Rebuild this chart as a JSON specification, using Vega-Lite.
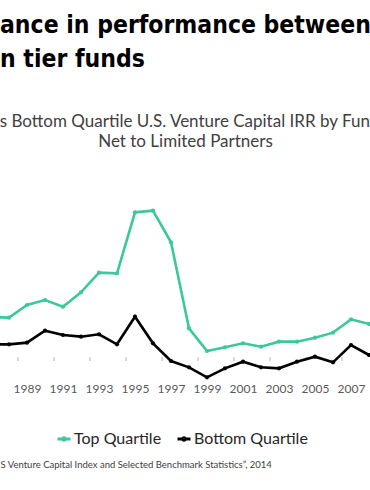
{
  "$schema": "https://vega.github.io/schema/vega-lite/v6.json",
  "autosize": {"type": "none"},
  "width": 370,
  "height": 175,
  "padding": {"top": 207, "left": 0, "right": 0, "bottom": 108},
  "background": "#ffffff",
  "config": {"view": {"stroke": null}},
  "title": {
    "text": ["ance in performance between", "n tier funds"],
    "anchor": "start",
    "frame": "group",
    "font": "'DejaVu Sans Condensed', 'Liberation Sans Narrow', Roboto, sans-serif",
    "fontSize": 24.5,
    "fontWeight": "bold",
    "color": "#000000",
    "lineHeight": 34,
    "offset": 40
  },
  "datasets": {
    "irr": [
      {"year": 1987, "series": "Top Quartile", "irr": 24.0},
      {"year": 1988, "series": "Top Quartile", "irr": 23.6},
      {"year": 1989, "series": "Top Quartile", "irr": 31.2},
      {"year": 1990, "series": "Top Quartile", "irr": 34.2},
      {"year": 1991, "series": "Top Quartile", "irr": 30.2},
      {"year": 1992, "series": "Top Quartile", "irr": 38.8},
      {"year": 1993, "series": "Top Quartile", "irr": 50.6},
      {"year": 1994, "series": "Top Quartile", "irr": 50.2},
      {"year": 1995, "series": "Top Quartile", "irr": 86.8},
      {"year": 1996, "series": "Top Quartile", "irr": 87.8},
      {"year": 1997, "series": "Top Quartile", "irr": 68.8},
      {"year": 1998, "series": "Top Quartile", "irr": 17.2},
      {"year": 1999, "series": "Top Quartile", "irr": 3.6},
      {"year": 2000, "series": "Top Quartile", "irr": 5.8},
      {"year": 2001, "series": "Top Quartile", "irr": 8.2},
      {"year": 2002, "series": "Top Quartile", "irr": 6.2},
      {"year": 2003, "series": "Top Quartile", "irr": 9.2},
      {"year": 2004, "series": "Top Quartile", "irr": 9.2},
      {"year": 2005, "series": "Top Quartile", "irr": 11.6},
      {"year": 2006, "series": "Top Quartile", "irr": 14.6},
      {"year": 2007, "series": "Top Quartile", "irr": 22.6},
      {"year": 2008, "series": "Top Quartile", "irr": 19.8},
      {"year": 1987, "series": "Bottom Quartile", "irr": 7.5},
      {"year": 1988, "series": "Bottom Quartile", "irr": 7.6},
      {"year": 1989, "series": "Bottom Quartile", "irr": 8.6},
      {"year": 1990, "series": "Bottom Quartile", "irr": 15.8},
      {"year": 1991, "series": "Bottom Quartile", "irr": 13.2},
      {"year": 1992, "series": "Bottom Quartile", "irr": 12.2},
      {"year": 1993, "series": "Bottom Quartile", "irr": 13.6},
      {"year": 1994, "series": "Bottom Quartile", "irr": 7.6},
      {"year": 1995, "series": "Bottom Quartile", "irr": 24.2},
      {"year": 1996, "series": "Bottom Quartile", "irr": 8.2},
      {"year": 1997, "series": "Bottom Quartile", "irr": -2.4},
      {"year": 1998, "series": "Bottom Quartile", "irr": -6.2},
      {"year": 1999, "series": "Bottom Quartile", "irr": -12.2},
      {"year": 2000, "series": "Bottom Quartile", "irr": -6.8},
      {"year": 2001, "series": "Bottom Quartile", "irr": -2.8},
      {"year": 2002, "series": "Bottom Quartile", "irr": -6.2},
      {"year": 2003, "series": "Bottom Quartile", "irr": -6.8},
      {"year": 2004, "series": "Bottom Quartile", "irr": -2.8},
      {"year": 2005, "series": "Bottom Quartile", "irr": 0.2},
      {"year": 2006, "series": "Bottom Quartile", "irr": -3.2},
      {"year": 2007, "series": "Bottom Quartile", "irr": 7.2},
      {"year": 2008, "series": "Bottom Quartile", "irr": 1.2}
    ],
    "ticks": [
      {"tick": 1988.5}, {"tick": 1990.5}, {"tick": 1992.5}, {"tick": 1994.5},
      {"tick": 1996.5}, {"tick": 1998.5}, {"tick": 2000.5}, {"tick": 2002.5},
      {"tick": 2004.5}, {"tick": 2006.5}
    ]
  },
  "resolve": {"axis": {"x": "independent"}},
  "layer": [
    {
      "data": {"name": "ticks"},
      "mark": {"type": "rule", "color": "#BFBFBF", "strokeWidth": 1.2},
      "encoding": {
        "x": {"field": "tick", "type": "quantitative", "axis": null,
              "scale": {"domain": [1987.5, 2008.0556], "nice": false, "zero": false}},
        "y": {"datum": 0, "type": "quantitative", "axis": null,
              "scale": {"domain": [-15, 90], "nice": false, "zero": false}},
        "y2": {"datum": -2.4}
      }
    },
    {
      "mark": {"type": "rule", "color": "#BFBFBF", "strokeWidth": 1.5},
      "encoding": {
        "y": {"datum": 0, "type": "quantitative", "axis": null,
              "scale": {"domain": [-15, 90], "nice": false, "zero": false}}
      }
    },
    {
      "data": {"name": "irr"},
      "mark": {"type": "line", "strokeWidth": 2.6, "clip": true},
      "encoding": {
        "x": {"field": "year", "type": "quantitative",
              "scale": {"domain": [1987.5, 2008.0556], "nice": false, "zero": false},
              "axis": {
                "orient": "bottom",
                "values": [1987, 1989, 1991, 1993, 1995, 1997, 1999, 2001, 2003, 2005, 2007, 2009],
                "format": "d",
                "grid": false, "ticks": false, "domain": false,
                "labelFont": "Lato", "labelFontSize": 12, "labelColor": "#595959",
                "labelPadding": 1, "labelFlush": false, "labelOverlap": false, "labelBound": false,
                "title": "S Venture Capital Index and Selected Benchmark Statistics\u201d, 2014",
                "titleFont": "Lato", "titleFontSize": 9.5, "titleFontWeight": "normal",
                "titleColor": "#404040", "titleAnchor": "start", "titleAlign": "left",
                "titlePadding": 65
              }},
        "y": {"field": "irr", "type": "quantitative", "axis": null,
              "scale": {"domain": [-15, 90], "nice": false, "zero": false}},
        "color": {"field": "series", "type": "nominal",
                  "scale": {"domain": ["Top Quartile", "Bottom Quartile"], "range": ["#3CC89C", "#000000"]},
                  "legend": {
                    "orient": "none", "legendX": 56, "legendY": 224,
                    "direction": "horizontal", "columns": 2, "title": null,
                    "padding": 0, "columnPadding": 14, "labelOffset": 2,
                    "labelFont": "Lato", "labelFontSize": 16, "labelColor": "#262626",
                    "symbolType": "M-1,-0.22H1V0.22H-1Z M-0.42,0A0.42,0.42 0 1,1 0.42,0A0.42,0.42 0 1,1 -0.42,0Z",
                    "symbolSize": 169, "symbolStrokeWidth": 0,
                    "encode": {"symbols": {"update": {"fill": {"scale": "color", "field": "value"}, "fillOpacity": {"value": 1}}}}
                  }}
      }
    },
    {
      "data": {"name": "irr"},
      "mark": {"type": "point", "filled": true, "size": 18, "opacity": 1, "clip": true},
      "encoding": {
        "x": {"field": "year", "type": "quantitative",
              "scale": {"domain": [1987.5, 2008.0556], "nice": false, "zero": false},
              "axis": {
                "orient": "top", "labels": false, "ticks": false, "domain": false, "grid": false,
                "title": ["Top Quartile vs Bottom Quartile U.S. Venture Capital IRR by Fund Vintage Year", "Net to Limited Partners"],
                "titleFont": "Lato", "titleFontSize": 17, "titleFontWeight": "normal",
                "titleColor": "#404040", "titleLineHeight": 20, "titlePadding": 57
              }},
        "y": {"field": "irr", "type": "quantitative", "axis": null,
              "scale": {"domain": [-15, 90], "nice": false, "zero": false}},
        "color": {"field": "series", "type": "nominal", "legend": null,
                  "scale": {"domain": ["Top Quartile", "Bottom Quartile"], "range": ["#3CC89C", "#000000"]}}
      }
    }
  ]
}
